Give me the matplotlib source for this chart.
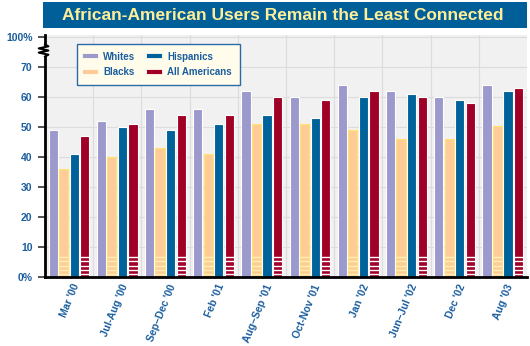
import matplotlib.pyplot as plt
import matplotlib.patches as mpatches
from matplotlib.lines import Line2D
import matplotlib.transforms as mtransforms
import numpy as np

# Survey dates and percent of each group online
periods = ["Mar '00", "Jul-Aug '00", "Sep\u2013Dec '00", "Feb '01", "Aug\u2013Sep '01",
           "Oct-Nov '01", "Jan '02", "Jun\u2013Jul '02", "Dec '02", "Aug '03"]
whites = [49, 52, 56, 56, 62, 60, 64, 62, 60, 64]
blacks = [36, 40, 43, 41, 51, 51, 49, 46, 46, 50.5]
hispanics = [41, 50, 49, 51, 54, 53, 60, 61, 59, 62]
all_americans = [47, 51, 54, 54, 60, 59, 62, 60, 58, 63]

ytick_vals = [0, 10, 20, 30, 40, 50, 60, 70, 80]
ytick_labels = ['0%', '10', '20', '30', '40', '50', '60', '70', '100%']

c_white = '#9C99CC'
c_black = '#FFCC99'
c_hisp = '#00629A'
c_all = '#A00028'
blue_txt = '#1B5E9E'

plt.rcParams['font.family'] = ['Liberation Sans', 'DejaVu Sans']

fig = plt.figure(figsize=(5.3, 3.46), dpi=100)
ax = fig.add_axes([45 / 530, 1 - 277 / 346, 482 / 530, 242 / 346])
ax.set_facecolor('#F1F1F1')

x = np.arange(len(periods))
w = 0.19
offs = [-0.33, -0.115, 0.105, 0.325]
series = [(whites, c_white, 'Whites', None),
          (blacks, c_black, 'Blacks', '#FFE36A'),
          (hispanics, c_hisp, 'Hispanics', None),
          (all_americans, c_all, 'All Americans', None)]
for (vals, col, name, edge), o in zip(series, offs):
    ax.bar(x + o, vals, w, color=col, edgecolor=edge if edge else 'white',
           linewidth=0.8, zorder=3)

# white stripes at the bottom of Blacks and All Americans bars
for vals, o, sc in [(blacks, offs[1], '#FFF3B0'), (all_americans, offs[3], 'white')]:
    for xi in x:
        for yy in [1.0, 2.4, 3.8, 5.2, 6.6]:
            ax.plot([xi + o - w / 2, xi + o + w / 2], [yy, yy], color=sc,
                    lw=1.0, zorder=4, solid_capstyle='butt')

ax.set_xlim(-0.5, len(periods) - 0.5)
ax.set_ylim(0, 80.67)
ax.set_yticks(ytick_vals)
ax.set_yticklabels(ytick_labels)
ax.set_xticks(x + 0.06)
ax.set_xticklabels(periods, rotation=68, ha='right', va='top', rotation_mode='anchor')
ax.set_xticks(x[:-1] + 0.5, minor=True)
ax.grid(True, which='minor', axis='x', color='#DCDCDC', lw=0.8, zorder=0)
ax.grid(True, which='major', axis='y', color='#DCDCDC', lw=0.8, zorder=0)
ax.tick_params(axis='x', which='both', length=0, pad=4)
ax.tick_params(axis='y', length=5, width=1.2, color='#333333', pad=4)
for lab in ax.get_xticklabels() + ax.get_yticklabels():
    lab.set_color(blue_txt)
    lab.set_fontweight('bold')
    lab.set_fontsize(7.5)

for s in ['top', 'right', 'left']:
    ax.spines[s].set_visible(False)
ax.spines['bottom'].set_linewidth(2)
ax.spines['bottom'].set_zorder(5)

# left axis with break
tr = mtransforms.blended_transform_factory(ax.transAxes, ax.transData)
ax.add_line(Line2D([0, 0], [0, 73.5], transform=tr, color='black', lw=2,
                   clip_on=False, zorder=6))
zz_y = [73.5, 74.1, 74.8, 75.5, 76.2, 76.9, 77.5]
zz_x = [0, 0.007, -0.013, 0.007, -0.013, 0.007, 0]
ax.add_line(Line2D(zz_x, zz_y, transform=tr, color='black', lw=1.5,
                   clip_on=False, zorder=6))
ax.add_line(Line2D([0, 0], [77.5, 80.67], transform=tr, color='black', lw=2,
                   clip_on=False, zorder=6))

handles = [Line2D([], [], color=c, lw=3) for _, c, _, _ in series]
leg = ax.legend(handles, [s[2] for s in series],
                ncol=2, loc='upper left', bbox_to_anchor=(0.066, 0.963),
                borderaxespad=0, frameon=True, fancybox=False,
                handlelength=1.2, handletextpad=0.7,
                columnspacing=1.4, borderpad=0.8, labelspacing=0.55,
                prop={'weight': 'bold', 'size': 7})
leg.get_frame().set_facecolor('#FFFCEC')
leg.get_frame().set_edgecolor('#2B6AA8')
leg.get_frame().set_linewidth(1)
leg.get_frame().set_alpha(1)
leg.set_zorder(7)
for t in leg.get_texts():
    t.set_color(blue_txt)

# title banner
fig.patches.append(mpatches.Rectangle((43 / 530, 1 - 28 / 346), 484 / 530, 26 / 346,
                                      transform=fig.transFigure, facecolor='#005F98',
                                      edgecolor='none'))
fig.text(283 / 530, 1 - 15.5 / 346, 'African-American Users Remain the Least Connected',
         ha='center', va='center', color='#FFEE99', fontsize=12.5, fontweight='bold')

fig.savefig('out.png', dpi=100)
